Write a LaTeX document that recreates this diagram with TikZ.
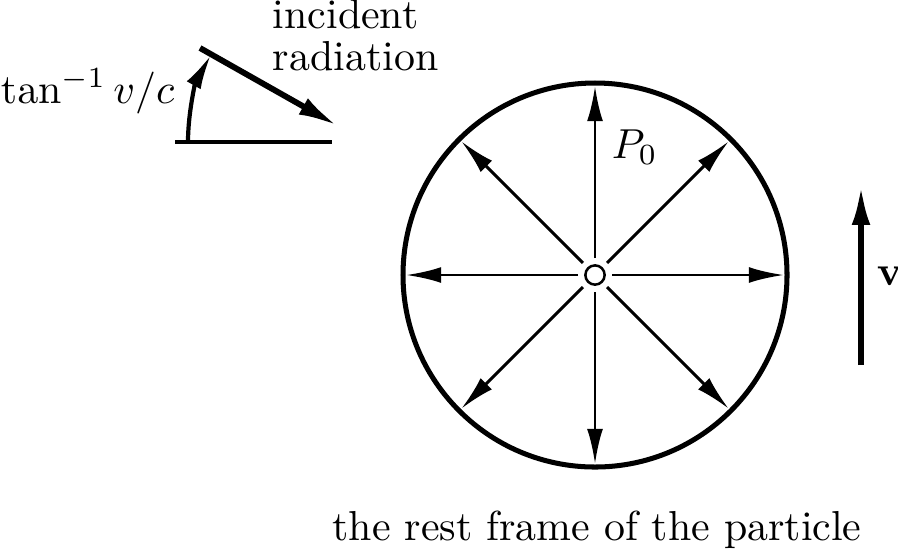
\documentclass[tikz,border=0pt]{standalone}
\usepackage{amsmath, amsfonts, amssymb}
\usepackage{tikz}
\usepackage{xcolor}
\usetikzlibrary{positioning, arrows.meta}

\begin{document}
\begin{tikzpicture}[x=0.2386pt, y=0.2386pt,
        ray/.style={line width=0.7pt, -{Latex[length=8.4pt, width=3.8pt]}},
        thick arrow/.style={line width=1.4pt, -{Latex[length=9.5pt, width=4.4pt]}},
        every node/.style={inner sep=0pt}]
            \useasboundingbox (0, 0) rectangle (898, 552);
            % the particle and its rest frame
            \node [draw, circle, line width=0.6pt, fill=white, minimum size=4.6pt] (O) at (595, 277) {};
            \draw[line width=1.2pt] (O.center) circle (192);
            \foreach \a in {0, 45, ..., 315}
                \draw[ray] ([shift={(\a:17)}]O.center) -- ([shift={(\a:189)}]O.center);
            \node [anchor=base west] (P) at (611, 394) {$P_0$};
            \node [anchor=base] (frame) at (597, 12) {the rest frame of the particle};
            % velocity
            \coordinate (vlow) at (861, 187);
            \coordinate (vtop) at (861, 367);
            \draw[thick arrow] (vlow) -- (vtop);
            \node [anchor=base west] (v) at (876, 267) {$\mathbf{v}$};
            % incident radiation
            \coordinate (src) at (200, 504);
            \coordinate (hit) at (338, 426);
            \coordinate (bl) at (175, 410);
            \coordinate (br) at (332, 410);
            \coordinate (V) at (365, 410);
            \draw[thick arrow] (src) -- (hit);
            \draw[line width=1pt] (bl) -- (br);
            \draw[line width=1pt, -{Latex[length=8.4pt, width=3.8pt]}] ([shift={(180:177)}]V) arc[start angle=180, end angle=150.4, radius=177];
            \node [anchor=base west] (ang) at (0, 449) {$\tan^{-1} v/c$};
            \node [anchor=base west, align=left] (inc) at (272, 482) {incident\\[-2pt]radiation};
        \end{tikzpicture}
\end{document}
